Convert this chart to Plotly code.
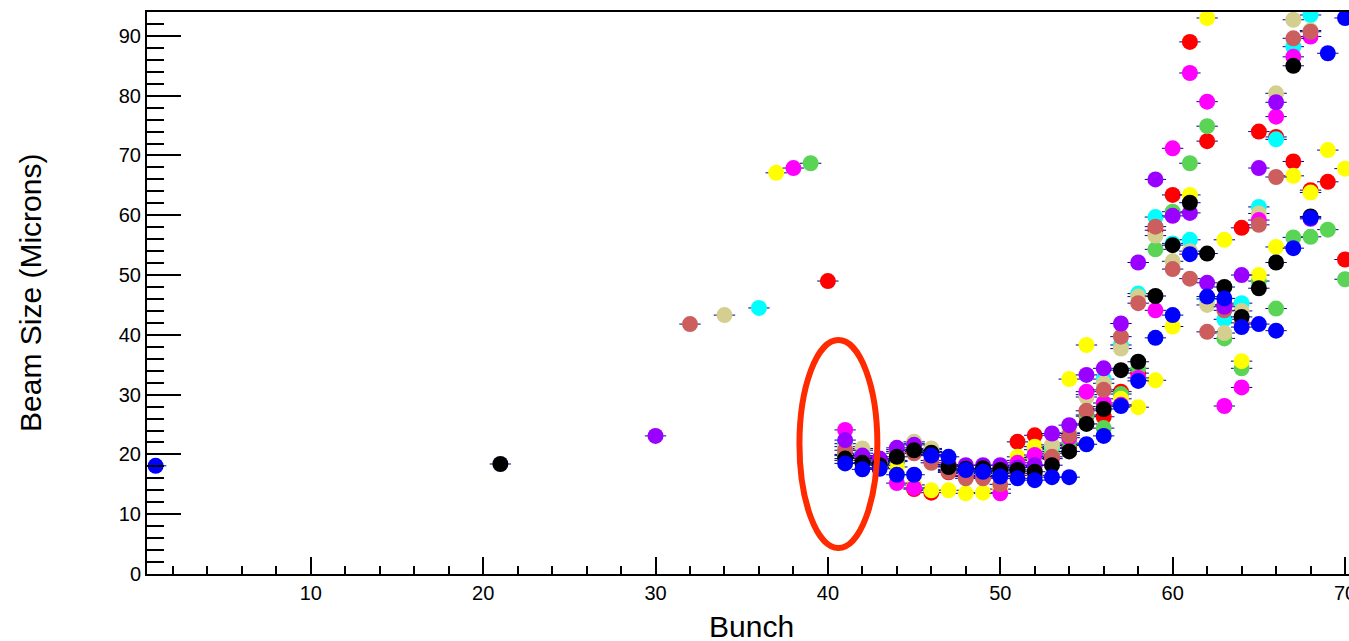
import plotly.graph_objects as go

# ---------------- data ----------------
BUNCHES = list(range(41, 71))

# first (isolated) bunch of each series
FIRST_BUNCH = {"red": 40, "green": 39, "yellow": 37, "cyan": 36, "khaki": 34,
               "magenta": 38, "indianred": 32, "purple": 30, "black": 21, "blue": 1}
FIRST_SIZE = {"red": 49.0, "green": 68.7, "yellow": 67.1, "cyan": 44.5, "khaki": 43.3,
              "magenta": 67.9, "indianred": 41.8, "purple": 23.1, "black": 18.4, "blue": 18.1}

# beam sizes for bunches 41..70 (None = off the top of the chart)
RED = [20.0, 19.5, 18.5, 19.0, 14.2, 13.6, 17.0, 16.5, 16.5, 16.5,
       22.1, 23.2, 20.5, 21.5, 26.4, 26.3, 30.5, 33.6, 57.5, 63.4,
       89.0, 72.4, 45.0, 57.9, 74.0, 73.1, 69.0, 64.2, 65.6, 52.6]
GREEN = [19.8, 20.7, 18.3, 18.8, 20.5, 20.5, 17.5, 16.8, 16.8, 17.0,
         19.0, 20.8, 20.2, 21.9, 26.6, 24.4, 30.1, 34.4, 54.3, 60.6,
         68.7, 74.9, 39.4, 34.4, 49.0, 44.4, 56.3, 56.4, 57.6, 49.3]
YELLOW = [19.0, 18.5, 17.8, 17.9, 14.9, 14.0, 14.0, 13.5, 13.6, 14.2,
          19.6, 21.3, 21.0, 32.6, 38.3, 28.0, 29.3, 27.9, 32.4, 41.4,
          63.4, 93.0, 55.9, 35.6, 50.0, 54.7, 66.6, 63.8, 70.9, 67.8]
CYAN = [21.8, 20.2, 18.8, 20.5, 21.8, 20.8, 18.0, 17.0, 17.2, 17.2,
        18.0, 19.5, 21.2, 23.5, 30.0, 32.6, 38.3, 46.9, 59.7, 55.3,
        55.9, 46.0, 42.6, 45.3, 61.4, 72.7, 88.2, 93.5, None, None]
KHAKI = [21.3, 21.0, 19.0, 20.8, 22.1, 21.0, 18.2, 17.5, 17.4, 17.6,
         18.2, 19.2, 21.6, 23.6, 29.6, 31.9, 37.7, 46.4, 56.6, 52.3,
         54.0, 45.0, 40.3, 44.0, 60.3, 80.4, 92.7, 90.9, None, None]
MAGENTA = [24.1, 19.6, 19.2, 15.2, 14.4, 19.0, 17.3, 16.3, 16.2, 13.5,
           18.6, 19.9, 19.3, 22.8, 30.5, 28.6, 28.3, 32.8, 44.1, 71.2,
           83.8, 79.0, 28.1, 31.2, 59.2, 76.5, 86.5, 89.9, None, None]
INDIANRED = [20.7, 19.4, 18.6, 20.2, 20.2, 18.6, 17.1, 16.0, 16.0, 15.0,
             16.8, 16.5, 19.6, 23.2, 27.3, 30.8, 39.7, 45.3, 58.1, 51.0,
             49.4, 40.5, 44.1, 42.0, 58.4, 66.4, 89.6, 90.7, None, None]
PURPLE = [22.4, 19.8, 19.3, 21.1, 21.6, 20.0, 18.3, 18.2, 18.2, 18.2,
          17.8, 18.2, 23.5, 24.9, 33.3, 34.4, 41.9, 52.1, 66.0, 59.9,
          60.4, 48.7, 44.7, 50.0, 67.9, 78.9, None, 59.4, None, None]
BLACK = [19.3, 18.6, 18.2, 19.6, 20.7, 20.3, 17.9, 17.6, 17.7, 17.4,
         17.4, 17.1, 18.2, 20.5, 25.1, 27.6, 34.1, 35.5, 46.5, 55.0,
         62.1, 53.6, 48.0, 43.0, 47.8, 52.1, 85.0, 59.8, None, None]
BLUE = [18.5, 17.5, 17.6, 16.6, 16.6, 19.8, 19.6, 17.4, 17.1, 16.3,
        16.0, 15.7, 16.2, 16.2, 21.7, 23.1, 28.1, 32.3, 39.5, 43.3,
        53.5, 46.4, 46.1, 41.3, 41.8, 40.7, 54.5, 59.6, 87.1, 93.0]

X_TICKS = [10, 20, 30, 40, 50, 60, 70]
Y_TICKS = [0, 10, 20, 30, 40, 50, 60, 70, 80, 90]

# draw order (later = on top)
SERIES = [
    ("red", RED, "#ff0000"),
    ("green", GREEN, "#59d454"),
    ("yellow", YELLOW, "#ffff00"),
    ("cyan", CYAN, "#00ffff"),
    ("khaki", KHAKI, "#d4cf8f"),
    ("magenta", MAGENTA, "#ff00ff"),
    ("indianred", INDIANRED, "#cc5e5e"),
    ("purple", PURPLE, "#9900ff"),
    ("black", BLACK, "#000000"),
    ("blue", BLUE, "#0000ff"),
]

FONT = "Liberation Sans, Arial, Helvetica, sans-serif"

fig = go.Figure()
for name, vals, col in SERIES:
    xs = [FIRST_BUNCH[name]] + BUNCHES
    ys = [FIRST_SIZE[name]] + vals
    fig.add_trace(go.Scatter(
        x=xs, y=ys, mode="markers", name=name,
        marker=dict(symbol="circle", size=16, color=col, line=dict(width=0)),
        error_x=dict(type="constant", value=0.62, thickness=1, width=0, color="#00008b"),
        showlegend=False, hoverinfo="x+y",
    ))

# red ellipse highlighting bunch 41
fig.add_shape(type="circle", xref="x", yref="y",
              x0=38.35, x1=42.87, y0=4.35, y1=39.13,
              line=dict(color="#ff2a00", width=6), layer="above")

fig.update_layout(
    width=1349, height=641, autosize=False,
    margin=dict(l=147, r=0, t=12, b=67, pad=0, autoexpand=False),
    plot_bgcolor="white", paper_bgcolor="white",
    font=dict(family=FONT, size=20, color="black"),
    xaxis=dict(
        range=[0.5, 70.23], showgrid=False, zeroline=False, automargin=False,
        showline=True, linecolor="black", linewidth=2, mirror=True,
        ticks="inside", ticklen=17, tickwidth=2, tickcolor="black",
        tickvals=X_TICKS, ticktext=[str(v) for v in X_TICKS],
        ticklabeloverflow="allow",
        tickfont=dict(family=FONT, size=20, color="black"),
        minor=dict(dtick=2, tick0=0, ticks="inside", ticklen=8, tickwidth=1.5, tickcolor="black"),
    ),
    yaxis=dict(
        range=[0, 94], showgrid=False, zeroline=False, automargin=False,
        showline=True, linecolor="black", linewidth=2,
        ticks="inside", ticklen=34, tickwidth=2, tickcolor="black",
        tickvals=Y_TICKS, ticktext=[str(v) for v in Y_TICKS],
        tickfont=dict(family=FONT, size=20, color="black"),
        minor=dict(dtick=2, tick0=0, ticks="inside", ticklen=17, tickwidth=1.5, tickcolor="black"),
    ),
    annotations=[
        dict(text="Bunch", xref="paper", yref="paper", x=(751 - 147) / 1202, y=0,
             yshift=-52, xanchor="center", yanchor="middle", showarrow=False,
             font=dict(family=FONT, size=30, color="black")),
        dict(text="Beam Size (Microns)", xref="paper", yref="paper", x=0, y=(574 - 293) / 562,
             xshift=-117, xanchor="center", yanchor="middle", showarrow=False, textangle=-90,
             font=dict(family=FONT, size=30, color="black")),
    ],
)

fig.write_html("out.html")
